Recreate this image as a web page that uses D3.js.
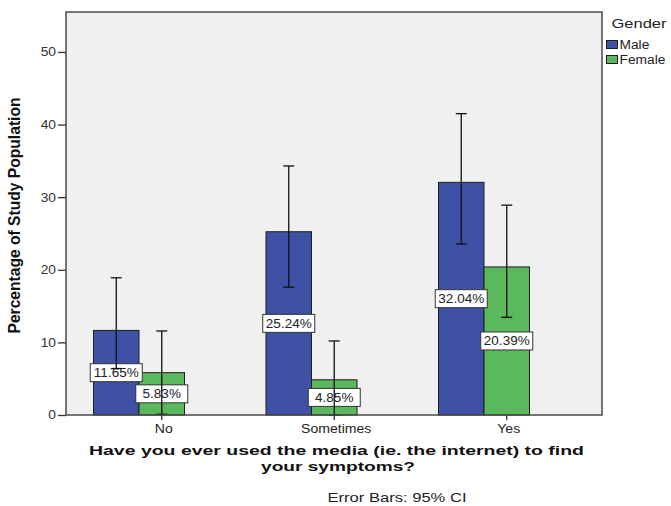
<!DOCTYPE html>
<html><head><meta charset="utf-8">
<script src="https://cdn.jsdelivr.net/npm/d3@7"></script>
<style>body{margin:0;background:#fff}svg{display:block;font-family:"Liberation Sans",Arial,sans-serif}</style>
</head><body><svg width="671" height="506"></svg>
<script>
const categories = ["No", "Sometimes", "Yes"];
const genders = ["Male", "Female"];
const maleValues = [11.65, 25.24, 32.04];
const femaleValues = [5.83, 4.85, 20.39];
const maleLower = [6.4, 17.6, 23.55];
const maleUpper = [18.9, 34.3, 41.5];
const femaleLower = [0.1, 0, 13.45];
const femaleUpper = [11.57, 10.2, 28.9];
const yTicks = [0, 10, 20, 30, 40, 50];
const colors = {Male: "#3F51A5", Female: "#5CB85C"};

const data = [];
categories.forEach((c, i) => {
  data.push({cat: c, g: "Male", v: maleValues[i], lo: maleLower[i], hi: maleUpper[i]});
  data.push({cat: c, g: "Female", v: femaleValues[i], lo: femaleLower[i], hi: femaleUpper[i]});
});

const svg = d3.select("svg");
const plot = {l: 66, t: 12, r: 602, b: 415};

function stretch(sel, k) {
  sel.each(function () {
    const w = this.getComputedTextLength();
    this.setAttribute("textLength", w * k);
    this.setAttribute("lengthAdjust", "spacingAndGlyphs");
  });
}
function fit(sel, w) {
  sel.attr("textLength", w).attr("lengthAdjust", "spacingAndGlyphs");
}

const y = d3.scaleLinear().domain([0, 55.5]).range([plot.b, plot.t]);
const p = 0.4725;
const x = d3.scaleBand().domain(categories).range([52.75, 570.25]).paddingInner(p).paddingOuter(p / 2);
const xs = d3.scaleBand().domain(genders).range([0, x.bandwidth()]);

// background
svg.append("rect").attr("x", plot.l).attr("y", plot.t)
  .attr("width", plot.r - plot.l).attr("height", plot.b - plot.t)
  .attr("fill", "#F0F0F0");

// bars
svg.append("g").selectAll("rect").data(data).join("rect")
  .attr("x", d => x(d.cat) + xs(d.g))
  .attr("y", d => y(d.v))
  .attr("width", xs.bandwidth())
  .attr("height", d => y(0) - y(d.v))
  .attr("fill", d => colors[d.g])
  .attr("stroke", "#1e1e1e").attr("stroke-width", 1);

// value labels
const lab = svg.append("g").selectAll("g").data(data).join("g")
  .attr("transform", d => `translate(${x(d.cat) + xs(d.g) + xs.bandwidth() / 2},${y(d.v / 2)})`);
lab.append("rect").attr("x", -26).attr("y", -9).attr("width", 52).attr("height", 18)
  .attr("fill", "#fff").attr("stroke", "#333").attr("stroke-width", 1);
lab.append("text").attr("text-anchor", "middle").attr("dy", "0.36em")
  .attr("font-size", 12.5).attr("fill", "#222")
  .text(d => d.v.toFixed(2) + "%").call(stretch, 1.08);

// error bars
const eb = svg.append("g").attr("stroke", "#111").attr("stroke-width", 1.3);
const cx = d => x(d.cat) + xs(d.g) + xs.bandwidth() / 2;
eb.selectAll("line.v").data(data).join("line").attr("class", "v")
  .attr("x1", cx).attr("x2", cx).attr("y1", d => y(d.lo)).attr("y2", d => y(d.hi));
eb.selectAll("line.t").data(data).join("line").attr("class", "t")
  .attr("x1", d => cx(d) - 5.5).attr("x2", d => cx(d) + 5.5).attr("y1", d => y(d.hi)).attr("y2", d => y(d.hi));
eb.selectAll("line.b").data(data).join("line").attr("class", "b")
  .attr("x1", d => cx(d) - 5.5).attr("x2", d => cx(d) + 5.5).attr("y1", d => y(d.lo)).attr("y2", d => y(d.lo));

// frame
svg.append("rect").attr("x", plot.l).attr("y", plot.t)
  .attr("width", plot.r - plot.l).attr("height", plot.b - plot.t)
  .attr("fill", "none").attr("stroke", "#4a4a4a").attr("stroke-width", 1.5);

// y axis
const yAxis = svg.append("g").attr("transform", `translate(${plot.l},0)`)
  .call(d3.axisLeft(y).tickValues(yTicks).tickSize(8).tickPadding(2).tickFormat(d3.format("d")));
yAxis.select(".domain").remove();
yAxis.selectAll(".tick line").attr("stroke", "#333").attr("stroke-width", 1.3);
yAxis.selectAll(".tick text").attr("font-size", 12).attr("fill", "#333")
  .attr("font-family", "Liberation Sans, Arial, sans-serif").call(stretch, 1.15);

// x axis (ticks at second bar of each cluster)
const xTickPos = categories.map(c => x(c) + xs("Female") + xs.bandwidth() / 2);
const xg = svg.append("g");
xg.selectAll("line").data(categories).join("line")
  .attr("x1", (c, i) => xTickPos[i]).attr("x2", (c, i) => xTickPos[i])
  .attr("y1", plot.b).attr("y2", plot.b + 5)
  .attr("stroke", "#333").attr("stroke-width", 1.3);
xg.selectAll("text").data(categories).join("text")
  .attr("x", (c, i) => xTickPos[i] + 2).attr("y", 433)
  .attr("text-anchor", "middle").attr("font-size", 12).attr("fill", "#222")
  .text(c => c).call(stretch, 1.17);

// y title
svg.append("text").attr("transform", "translate(19.5,215.5) rotate(-90)")
  .attr("text-anchor", "middle").attr("font-size", 16).attr("font-weight", "bold").attr("fill", "#111")
  .text("Percentage of Study Population").call(fit, 236);

// x title
svg.append("text").attr("x", 336.5).attr("y", 455).attr("text-anchor", "middle")
  .attr("font-size", 13).attr("font-weight", "bold").attr("fill", "#111")
  .text("Have you ever used the media (ie. the internet) to find").call(fit, 495);
svg.append("text").attr("x", 338).attr("y", 471).attr("text-anchor", "middle")
  .attr("font-size", 13).attr("font-weight", "bold").attr("fill", "#111")
  .text("your symptoms?").call(fit, 154);

// footnote
svg.append("text").attr("x", 397).attr("y", 502).attr("text-anchor", "middle")
  .attr("font-size", 12.5).attr("fill", "#222")
  .text("Error Bars: 95% CI").call(fit, 139);

// legend
const leg = svg.append("g");
leg.append("text").attr("x", 611.5).attr("y", 28).attr("font-size", 13.5).attr("fill", "#222")
  .text("Gender").call(fit, 55);
const li = leg.selectAll("g.item").data(genders).join("g").attr("class", "item")
  .attr("transform", (g, i) => `translate(606.5,${40.5 + i * 15})`);
li.append("rect").attr("width", 11).attr("height", 8)
  .attr("fill", g => colors[g]).attr("stroke", "#1e1e1e").attr("stroke-width", 1);
li.append("text").attr("x", 13).attr("y", 8.5).attr("font-size", 12.5).attr("fill", "#222")
  .text(g => g).call(stretch, 1.1);
</script>
</body></html>
